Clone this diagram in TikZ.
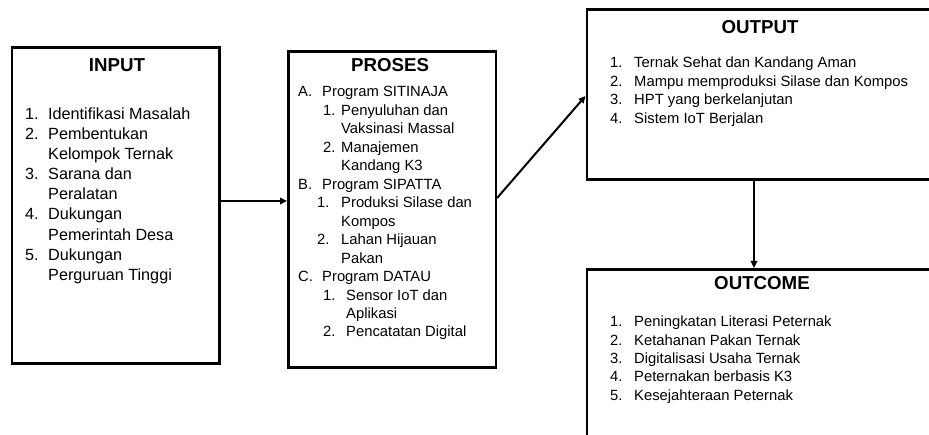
\documentclass[tikz,border=0pt]{standalone}
\usepackage{fontspec}
\setmainfont{Liberation Sans}
\usetikzlibrary{arrows.meta}
\begin{document}
\begin{tikzpicture}[x=1pt,y=-1pt,
 box/.style={draw, line width=2.6pt, rectangle, inner sep=0pt, anchor=north west},
 ttl/.style={font=\bfseries\fontsize{18.7}{20}\selectfont, inner sep=0pt},
 itA/.style={font=\fontsize{16.2}{18}\selectfont, inner sep=0pt, anchor=base west},
 itB/.style={font=\fontsize{14.8}{17}\selectfont, inner sep=0pt, anchor=base west},
 arr/.style={line width=2pt, -{Triangle[length=7pt,width=6.5pt]}}]
\useasboundingbox (0,0) rectangle (929,435);
% boxes
\node[box, minimum width=207.5pt, minimum height=316pt] (inp) at (10.5,46) {};
\node[box, minimum width=207.5pt, minimum height=316pt] (pro) at (287,50) {};
\node[box, minimum width=360pt, minimum height=169.5pt] (out) at (585.5,8.5) {};
\node[box, minimum width=360pt, minimum height=190pt] (outc) at (585.5,268) {};
% titles
\node[ttl] (tin) at (117,65) {INPUT};
\node[ttl] (tpr) at (390,65) {PROSES};
\node[ttl] (tou) at (760,27) {OUTPUT};
\node[ttl] (toc) at (762,283) {OUTCOME};
% INPUT items
\node[itA] (in1) at (25,119.5) {1.};  \node[itA] (in1t) at (48,119.5) {Identifikasi Masalah};
\node[itA] (in2) at (25,139.6) {2.};  \node[itA] (in2t) at (48,139.6) {Pembentukan};
\node[itA] (in2u) at (48,159.7) {Kelompok Ternak};
\node[itA] (in3) at (25,179.8) {3.};  \node[itA] (in3t) at (48,179.8) {Sarana dan};
\node[itA] (in3u) at (48,199.9) {Peralatan};
\node[itA] (in4) at (25,220) {4.};    \node[itA] (in4t) at (48,220) {Dukungan};
\node[itA] (in4u) at (48,240.1) {Pemerintah Desa};
\node[itA] (in5) at (25,260.2) {5.};  \node[itA] (in5t) at (48,260.2) {Dukungan};
\node[itA] (in5u) at (48,280.3) {Perguruan Tinggi};
% PROSES items
\node[itB] (pA) at (298,97) {A.};   \node[itB] (pAt) at (322,97) {Program SITINAJA};
\node[itB] (pA1) at (323,115.5) {1.}; \node[itB] (pA1t) at (341,115.5) {Penyuluhan dan};
\node[itB] (pA1u) at (341,133.9) {Vaksinasi Massal};
\node[itB] (pA2) at (323,152.4) {2.}; \node[itB] (pA2t) at (341,152.4) {Manajemen};
\node[itB] (pA2u) at (341,170.8) {Kandang K3};
\node[itB] (pB) at (298,189.3) {B.};  \node[itB] (pBt) at (322,189.3) {Program SIPATTA};
\node[itB] (pB1) at (317,207.8) {1.}; \node[itB] (pB1t) at (341,207.8) {Produksi Silase dan};
\node[itB] (pB1u) at (341,226.2) {Kompos};
\node[itB] (pB2) at (317,244.7) {2.}; \node[itB] (pB2t) at (341,244.7) {Lahan Hijauan};
\node[itB] (pB2u) at (341,263.1) {Pakan};
\node[itB] (pC) at (298,281.6) {C.};  \node[itB] (pCt) at (322,281.6) {Program DATAU};
\node[itB] (pC1) at (323,300.1) {1.}; \node[itB] (pC1t) at (346,300.1) {Sensor IoT dan};
\node[itB] (pC1u) at (346,318.5) {Aplikasi};
\node[itB] (pC2) at (323,337) {2.};   \node[itB] (pC2t) at (346,337) {Pencatatan Digital};
% OUTPUT items
\node[itB] (o1) at (610,68) {1.};    \node[itB] (o1t) at (634,68) {Ternak Sehat dan Kandang Aman};
\node[itB] (o2) at (610,86.4) {2.};  \node[itB] (o2t) at (634,86.4) {Mampu memproduksi Silase dan Kompos};
\node[itB] (o3) at (610,104.8) {3.}; \node[itB] (o3t) at (634,104.8) {HPT yang berkelanjutan};
\node[itB] (o4) at (610,123.2) {4.}; \node[itB] (o4t) at (634,123.2) {Sistem IoT Berjalan};
% OUTCOME items
\node[itB] (c1) at (610,327) {1.};    \node[itB] (c1t) at (634,327) {Peningkatan Literasi Peternak};
\node[itB] (c2) at (610,345.3) {2.};  \node[itB] (c2t) at (634,345.3) {Ketahanan Pakan Ternak};
\node[itB] (c3) at (610,363.6) {3.};  \node[itB] (c3t) at (634,363.6) {Digitalisasi Usaha Ternak};
\node[itB] (c4) at (610,381.9) {4.};  \node[itB] (c4t) at (634,381.9) {Peternakan berbasis K3};
\node[itB] (c5) at (610,400.2) {5.};  \node[itB] (c5t) at (634,400.2) {Kesejahteraan Peternak};
% connectors
\draw[arr] (inp.east |- 0,201) -- (pro.west |- 0,201);
\draw[arr] (pro.east |- 0,198) -- (out.west |- 0,96);
\draw[arr] (out.south -| 754,0) -- (outc.north -| 754,0);
\end{tikzpicture}
\end{document}
